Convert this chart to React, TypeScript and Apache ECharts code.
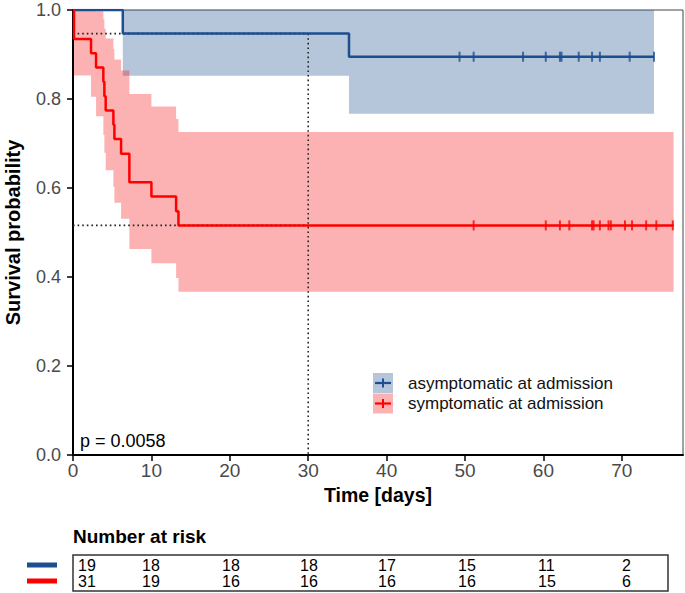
import React, { useEffect, useRef } from "react";
import * as echarts from "echarts";

// ---------- data ----------
const xTickValues = [0, 10, 20, 30, 40, 50, 60, 70];
const yTickValues = [0, 0.2, 0.4, 0.6, 0.8, 1.0];

// asymptomatic at admission (blue)
const blueTimes = [0, 6.35, 35.2, 74.1];
const blueSurv = [1, 0.947, 0.895, 0.895];
const blueBandTimes = [6.35, 35.2, 74.1];
const blueUpper = [1, 1, 1];
const blueLower = [0.852, 0.767, 0.767];
const blueCensorTimes = [49.3, 51.1, 57.4, 60.3, 62.1, 62.3, 64.5, 66.2, 67.2, 71.0, 74.1];
const blueCensorLevel = 0.895;

// symptomatic at admission (red)
const redTimes = [0, 0.13, 2.3, 2.94, 3.87, 4.0, 4.17, 5.15, 5.28, 6.13, 7.19, 10.0, 13.15, 13.45, 76.6];
const redSurv = [1, 0.935, 0.903, 0.871, 0.839, 0.806, 0.774, 0.742, 0.71, 0.677, 0.613, 0.581, 0.548, 0.516, 0.516];
const redBandTimes = [0.13, 2.3, 2.94, 3.87, 4.0, 4.17, 5.15, 5.28, 6.13, 7.19, 10.0, 13.15, 13.45, 76.6];
const redUpper = [1, 1, 0.997, 0.979, 0.958, 0.936, 0.913, 0.889, 0.864, 0.811, 0.783, 0.755, 0.726, 0.726];
const redLower = [0.853, 0.805, 0.761, 0.719, 0.679, 0.64, 0.603, 0.567, 0.531, 0.463, 0.431, 0.398, 0.367, 0.367];
const redCensorTimes = [51.1, 60.3, 62.1, 63.3, 66.2, 66.4, 67.2, 68.3, 68.6, 70.4, 71.3, 73.1, 74.4, 76.5];
const redCensorLevel = 0.516;

// landmark
const landmarkDay = 30;
const blueAtLandmark = 0.947;
const redAtLandmark = 0.516;

const pValueText = "p = 0.0058";
const legendLabels = ["asymptomatic at admission", "symptomatic at admission"];

// number at risk
const riskBlue = [19, 18, 18, 18, 17, 15, 11, 2];
const riskRed = [31, 19, 16, 16, 16, 16, 15, 6];

// ---------- styling / layout ----------
const BLUE = "#1d4e8f";
const RED = "#ff0000";
const BLUE_BAND = "rgba(29,78,143,0.33)";
const RED_BAND = "rgba(245,0,0,0.3)";
const FONT = "'Liberation Sans', Arial, Helvetica, sans-serif";
const riskColX = [78, 142, 222, 300, 378, 458, 538, 622];

function bandSeries(times: number[], upper: number[], lower: number[], color: string) {
  return {
    type: "custom",
    silent: true,
    z: 1,
    data: [[times[0], lower[0]]],
    renderItem: (_params: any, api: any) => {
      const pts: number[][] = [];
      const n = times.length;
      for (let i = 0; i < n; i++) {
        const tn = i + 1 < n ? times[i + 1] : times[i];
        pts.push(api.coord([times[i], upper[i]]));
        pts.push(api.coord([tn, upper[i]]));
      }
      for (let i = n - 1; i >= 0; i--) {
        const tn = i + 1 < n ? times[i + 1] : times[i];
        pts.push(api.coord([tn, lower[i]]));
        pts.push(api.coord([times[i], lower[i]]));
      }
      return { type: "polygon", shape: { points: pts }, style: { fill: color } };
    },
  };
}

export default function App() {
  const ref = useRef<HTMLDivElement>(null);
  useEffect(() => {
    if (!ref.current) return;
    const chart = echarts.init(ref.current, undefined, { renderer: "svg" });

    const dotted = { color: "#222", width: 1.6, type: [1.6, 3] as any };

    const legendGraphics: any[] = [];
    [BLUE, RED].forEach((c, i) => {
      const y0 = 373 + i * 20.5;
      legendGraphics.push(
        { type: "rect", shape: { x: 373, y: y0, width: 20, height: 20 }, style: { fill: i === 0 ? BLUE_BAND : RED_BAND } },
        { type: "line", shape: { x1: 375, y1: y0 + 10, x2: 391, y2: y0 + 10 }, style: { stroke: c, lineWidth: 2.2 } },
        { type: "line", shape: { x1: 383, y1: y0 + 5.5, x2: 383, y2: y0 + 14.5 }, style: { stroke: c, lineWidth: 2 } },
        {
          type: "text",
          x: 408,
          y: y0 + 10,
          style: { text: legendLabels[i], font: `17px ${FONT}`, fill: "#111", verticalAlign: "middle", align: "left" },
        }
      );
    });

    const riskGraphics: any[] = [
      {
        type: "text",
        x: 73,
        y: 536,
        style: { text: "Number at risk", font: `bold 19px ${FONT}`, fill: "#000", verticalAlign: "middle" },
      },
      { type: "rect", shape: { x: 73, y: 555, width: 595, height: 36 }, style: { fill: "none", stroke: "#333", lineWidth: 1.5 } },
      { type: "rect", shape: { x: 27, y: 562.5, width: 30, height: 5 }, style: { fill: BLUE } },
      { type: "rect", shape: { x: 27, y: 578.5, width: 30, height: 5 }, style: { fill: RED } },
    ];
    riskBlue.forEach((v, i) =>
      riskGraphics.push({
        type: "text",
        x: riskColX[i],
        y: 565.5,
        style: { text: String(v), font: `16px ${FONT}`, fill: "#000", verticalAlign: "middle" },
      })
    );
    riskRed.forEach((v, i) =>
      riskGraphics.push({
        type: "text",
        x: riskColX[i],
        y: 581.5,
        style: { text: String(v), font: `16px ${FONT}`, fill: "#000", verticalAlign: "middle" },
      })
    );

    chart.setOption({
      animation: false,
      backgroundColor: "#fff",
      grid: {
        left: 73,
        right: 2,
        top: 10,
        bottom: 138,
        show: true,
        borderColor: "#444",
        borderWidth: 1,
        containLabel: false,
        outerBoundsMode: "none",
      },
      xAxis: {
        type: "value",
        min: 0,
        max: 77.8,
        interval: 10,
        name: "Time [days]",
        nameLocation: "middle",
        nameGap: 29,
        nameTextStyle: { fontFamily: FONT, fontSize: 19.5, fontWeight: "bold", color: "#000" },
        axisLine: { show: true, lineStyle: { color: "#000", width: 2 } },
        axisTick: { show: true, length: 6, lineStyle: { color: "#000", width: 1.5 }, customValues: xTickValues },
        axisLabel: { fontFamily: FONT, fontSize: 19, color: "#4a4a4a", margin: 6, customValues: xTickValues },
        splitLine: { show: false },
      },
      yAxis: {
        type: "value",
        min: 0,
        max: 1,
        interval: 0.2,
        name: "Survival probability",
        nameLocation: "middle",
        nameGap: 50,
        nameTextStyle: { fontFamily: FONT, fontSize: 20, fontWeight: "bold", color: "#000" },
        axisLine: { show: true, lineStyle: { color: "#000", width: 2 } },
        axisTick: { show: true, length: 6, lineStyle: { color: "#000", width: 1.5 }, customValues: yTickValues },
        axisLabel: {
          fontFamily: FONT,
          fontSize: 18,
          lineHeight: 14,
          color: "#4a4a4a",
          margin: 12,
          customValues: yTickValues,
          formatter: (v: number) => v.toFixed(1),
        },
        splitLine: { show: false },
      },
      series: [
        bandSeries(blueBandTimes, blueUpper, blueLower, BLUE_BAND),
        bandSeries(redBandTimes, redUpper, redLower, RED_BAND),
        {
          type: "line",
          z: 2,
          silent: true,
          showSymbol: false,
          data: [[0, blueAtLandmark], [landmarkDay, blueAtLandmark]],
          lineStyle: dotted,
        },
        {
          type: "line",
          z: 2,
          silent: true,
          showSymbol: false,
          data: [[0, redAtLandmark], [landmarkDay, redAtLandmark]],
          lineStyle: dotted,
        },
        {
          type: "line",
          z: 2,
          silent: true,
          showSymbol: false,
          data: [[landmarkDay, blueAtLandmark], [landmarkDay, 0]],
          lineStyle: dotted,
        },
        {
          type: "line",
          z: 3,
          step: "end",
          showSymbol: false,
          data: blueTimes.map((t, i) => [t, blueSurv[i]]),
          lineStyle: { color: BLUE, width: 2.5 },
        },
        {
          type: "line",
          z: 3,
          step: "end",
          showSymbol: false,
          data: redTimes.map((t, i) => [t, redSurv[i]]),
          lineStyle: { color: RED, width: 2.5 },
        },
        {
          type: "scatter",
          z: 4,
          symbol: "rect",
          symbolSize: [2, 10],
          itemStyle: { color: BLUE },
          data: blueCensorTimes.map((t) => [t, blueCensorLevel]),
        },
        {
          type: "scatter",
          z: 4,
          symbol: "rect",
          symbolSize: [2, 10],
          itemStyle: { color: RED },
          data: redCensorTimes.map((t) => [t, redCensorLevel]),
        },
      ],
      graphic: [
        ...legendGraphics,
        {
          type: "text",
          x: 80,
          y: 441,
          style: { text: pValueText, font: `18px ${FONT}`, fill: "#000", verticalAlign: "middle" },
        },
        ...riskGraphics,
      ],
    });
    return () => chart.dispose();
  }, []);
  return <div ref={ref} style={{ position: "fixed", left: 0, top: 0, width: 685, height: 593 }} />;
}
